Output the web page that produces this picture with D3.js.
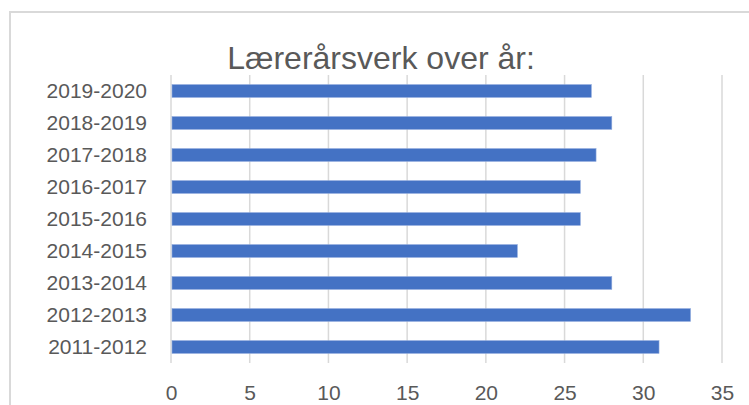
<!DOCTYPE html>
<html>
<head>
<meta charset="utf-8">
<script src="https://cdn.jsdelivr.net/npm/d3@7"></script>
<style>
  body { margin: 0; background: #fff; }
  svg { display: block; font-family: 'Liberation Sans', Arial, sans-serif; }
</style>
</head>
<body>
<div id="chart"></div>
<script>
const width = 749
const height = 405

// data
const years = ['2011-2012', '2012-2013', '2013-2014', '2014-2015', '2015-2016',
  '2016-2017', '2017-2018', '2018-2019', '2019-2020']
const aarsverk = [31, 33, 28, 22, 26, 26, 27, 28, 26.7]
const xTicks = [0, 5, 10, 15, 20, 25, 30, 35]

const margin = { top: 75, left: 171, right: 27, bottom: 42 }

const svg = d3.select('#chart')
  .append('svg')
  .attr('width', width)
  .attr('height', height)

// chart frame
svg.append('rect')
  .attr('x', 10)
  .attr('y', 12)
  .attr('width', 760)
  .attr('height', 420)
  .attr('fill', 'none')
  .attr('stroke', '#d9d9d9')
  .attr('stroke-width', 2)

const x = d3.scaleLinear()
  .domain([0, 35])
  .range([margin.left, width - margin.right])

const y = d3.scaleBand()
  .domain(years.slice().reverse())
  .range([margin.top, height - margin.bottom])
  .paddingInner(0.6)
  .paddingOuter(0.3)

// gridlines
svg.append('g')
  .selectAll('line')
  .data(xTicks)
  .enter()
  .append('line')
  .attr('x1', d => x(d))
  .attr('x2', d => x(d))
  .attr('y1', margin.top)
  .attr('y2', height - margin.bottom)
  .attr('stroke', '#d9d9d9')
  .attr('stroke-width', 1.5)

// bars
svg.append('g')
  .selectAll('rect')
  .data(years)
  .enter()
  .append('rect')
  .attr('x', x(0) + 1)
  .attr('y', d => y(d))
  .attr('width', (d, i) => x(aarsverk[i]) - x(0) - 1)
  .attr('height', y.bandwidth())
  .attr('fill', '#4472c4')
  .attr('stroke', '#8faadc')
  .attr('stroke-width', 0.6)

// x axis
const xAxis = svg.append('g')
  .attr('transform', `translate(0, ${height - margin.bottom})`)
  .call(d3.axisBottom(x).tickValues(xTicks).tickSize(0).tickPadding(22))
xAxis.select('.domain').remove()
xAxis.selectAll('text')
  .attr('fill', '#595959')
  .style('font-size', '21px')
  .style('font-family', "'Liberation Sans', Arial, sans-serif")

// y axis
const yAxis = svg.append('g')
  .attr('transform', `translate(${margin.left}, 0)`)
  .call(d3.axisLeft(y).tickSize(0).tickPadding(24))
yAxis.select('.domain').remove()
yAxis.selectAll('text')
  .attr('fill', '#595959')
  .style('font-size', '21px')
  .style('font-family', "'Liberation Sans', Arial, sans-serif")

// title
svg.append('text')
  .text('Lærerårsverk over år:')
  .attr('x', 381)
  .attr('y', 69)
  .attr('text-anchor', 'middle')
  .attr('fill', '#595959')
  .style('font-size', '32px')
</script>
</body>
</html>
